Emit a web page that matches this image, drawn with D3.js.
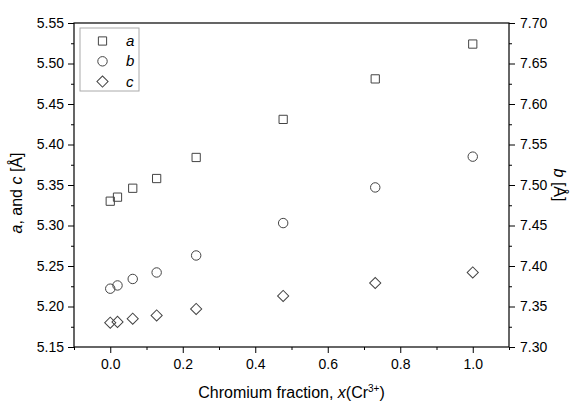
<!DOCTYPE html>
<html>
<head>
<meta charset="utf-8">
<script src="https://cdn.jsdelivr.net/npm/d3@7"></script>
<style>
  html, body { margin: 0; padding: 0; background: #fff; }
  svg { display: block; font-family: "Liberation Sans", Arial, sans-serif; }
</style>
</head>
<body>
<svg id="chart" width="574" height="404"></svg>
<script>
// ---- data ----
const xFraction = [0, 0.02, 0.062, 0.128, 0.237, 0.477, 0.731, 1.0];
const aValues = [5.330, 5.335, 5.346, 5.358, 5.384, 5.431, 5.481, 5.524];
const bValues = [7.372, 7.376, 7.384, 7.392, 7.413, 7.453, 7.497, 7.535];
const cValues = [5.180, 5.181, 5.185, 5.189, 5.197, 5.213, 5.229, 5.242];
const xMajorTicks = [0.0, 0.2, 0.4, 0.6, 0.8, 1.0];
const xMinorTicks = [-0.1, 0.1, 0.3, 0.5, 0.7, 0.9, 1.1];
const leftMajorTicks = [5.15, 5.20, 5.25, 5.30, 5.35, 5.40, 5.45, 5.50, 5.55];
const leftMinorTicks = [5.175, 5.225, 5.275, 5.325, 5.375, 5.425, 5.475, 5.525];
const rightMajorTicks = [7.30, 7.35, 7.40, 7.45, 7.50, 7.55, 7.60, 7.65, 7.70];
const rightMinorTicks = [7.325, 7.375, 7.425, 7.475, 7.525, 7.575, 7.625, 7.675];
const legendItems = [{key: "a", shape: "square"}, {key: "b", shape: "circle"}, {key: "c", shape: "diamond"}];

const svg = d3.select("#chart");
const L = 74, R = 509, T = 23, B = 347;
const x = d3.scaleLinear().domain([-0.1, 1.1]).range([L, R]);
const yL = d3.scaleLinear().domain([5.15, 5.55]).range([B, T]);
const yR = d3.scaleLinear().domain([7.30, 7.70]).range([B, T]);

const tickFont = 14;
function styleAxis(g) {
  g.select(".domain").remove();
  g.selectAll(".tick line").attr("stroke", "#000").attr("stroke-width", 1);
  g.selectAll(".tick text").attr("fill", "#000").style("font-size", tickFont + "px")
    .style("font-family", '"Liberation Sans", Arial, sans-serif');
}

// frame
svg.append("rect").attr("x", L).attr("y", T).attr("width", R - L).attr("height", B - T)
  .attr("fill", "none").attr("stroke", "#000").attr("stroke-width", 1.2);

// bottom axis
svg.append("g").attr("transform", `translate(0,${B})`)
  .call(d3.axisBottom(x).tickValues(xMajorTicks).tickSize(6).tickPadding(6).tickFormat(d3.format(".1f")))
  .call(styleAxis);
svg.append("g").attr("transform", `translate(0,${B})`)
  .call(d3.axisBottom(x).tickValues(xMinorTicks).tickSize(3).tickFormat(""))
  .call(styleAxis);

// left axis
svg.append("g").attr("transform", `translate(${L},0)`)
  .call(d3.axisLeft(yL).tickValues(leftMajorTicks).tickSize(6).tickPadding(4).tickFormat(d3.format(".2f")))
  .call(styleAxis);
svg.append("g").attr("transform", `translate(${L},0)`)
  .call(d3.axisLeft(yL).tickValues(leftMinorTicks).tickSize(3).tickFormat(""))
  .call(styleAxis);

// right axis
svg.append("g").attr("transform", `translate(${R},0)`)
  .call(d3.axisRight(yR).tickValues(rightMajorTicks).tickSize(6).tickPadding(5).tickFormat(d3.format(".2f")))
  .call(styleAxis);
svg.append("g").attr("transform", `translate(${R},0)`)
  .call(d3.axisRight(yR).tickValues(rightMinorTicks).tickSize(3).tickFormat(""))
  .call(styleAxis);

// symbols
const markStroke = "#444";
const sym = {
  square: d3.symbol().type(d3.symbolSquare).size(68),
  circle: d3.symbol().type(d3.symbolCircle).size(70),
  diamond: d3.symbol().type(d3.symbolSquare).size(62)
};
function drawMark(sel, shape) {
  const p = sel.append("path").attr("d", sym[shape]()).attr("fill", "none")
    .attr("stroke", markStroke).attr("stroke-width", 1);
  if (shape === "diamond") p.attr("transform", "rotate(45)");
}

const series = [
  {vals: aValues, scale: yL, shape: "square"},
  {vals: bValues, scale: yR, shape: "circle"},
  {vals: cValues, scale: yL, shape: "diamond"}
];
series.forEach(s => {
  const g = svg.append("g");
  xFraction.forEach((xv, i) => {
    const m = g.append("g").attr("transform", `translate(${x(xv)},${s.scale(s.vals[i])})`);
    drawMark(m, s.shape);
  });
});

// legend
const lg = svg.append("g");
lg.append("rect").attr("x", 80).attr("y", 28).attr("width", 59).attr("height", 63)
  .attr("fill", "#fff").attr("stroke", "#aaa").attr("stroke-width", 1);
legendItems.forEach((it, i) => {
  const cy = 41 + i * 20.3;
  const m = lg.append("g").attr("transform", `translate(102.5,${cy})`);
  drawMark(m, it.shape);
  lg.append("text").attr("x", 126).attr("y", cy + 5).style("font-size", "15px")
    .style("font-style", "italic").attr("fill", "#000").text(it.key);
});

// axis titles
const xt = svg.append("text").attr("x", (L + R) / 2).attr("y", 398).attr("text-anchor", "middle")
  .style("font-size", "16px").attr("fill", "#000");
xt.append("tspan").text("Chromium fraction, ");
xt.append("tspan").style("font-style", "italic").text("x");
xt.append("tspan").text("(Cr");
xt.append("tspan").attr("dy", -6).style("font-size", "10px").text("3+");
xt.append("tspan").attr("dy", 6).text(")");

const ylt = svg.append("text").attr("transform", "translate(22,193) rotate(-90)")
  .attr("text-anchor", "middle").style("font-size", "16px").attr("fill", "#000");
ylt.append("tspan").style("font-style", "italic").text("a");
ylt.append("tspan").text(", and ");
ylt.append("tspan").style("font-style", "italic").text("c");
ylt.append("tspan").text(" [Å]");

const yrt = svg.append("text").attr("transform", "translate(554,185) rotate(90)")
  .attr("text-anchor", "middle").style("font-size", "16px").attr("fill", "#000");
yrt.append("tspan").style("font-style", "italic").text("b");
yrt.append("tspan").text(" [Å]");
</script>
</body>
</html>
